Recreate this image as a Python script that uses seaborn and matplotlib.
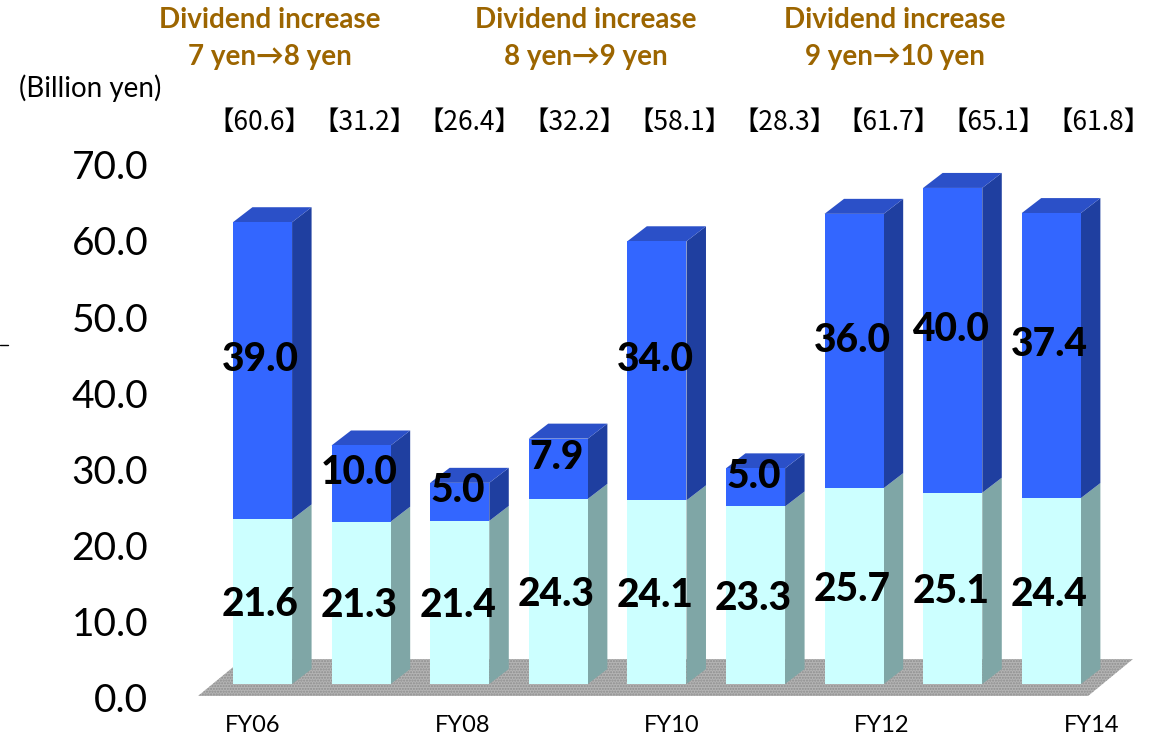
import matplotlib
matplotlib.use("Agg")
import matplotlib.pyplot as plt
from matplotlib.patches import Polygon
from matplotlib.lines import Line2D
from matplotlib.transforms import blended_transform_factory
import numpy as np
import pandas as pd
import seaborn as sns

# ---------------- data ----------------
fiscal_years = ["FY06", "FY07", "FY08", "FY09", "FY10", "FY11", "FY12", "FY13", "FY14"]
base_values = [21.6, 21.3, 21.4, 24.3, 24.1, 23.3, 25.7, 25.1, 24.4]
extra_values = [39.0, 10.0, 5.0, 7.9, 34.0, 5.0, 36.0, 40.0, 37.4]
total_labels = ["60.6", "31.2", "26.4", "32.2", "58.1", "28.3", "61.7", "65.1", "61.8"]
shown_ticks = ["FY06", "FY08", "FY10", "FY12", "FY14"]
y_ticks = [0, 10, 20, 30, 40, 50, 60, 70]
note_titles = ["Dividend increase", "Dividend increase", "Dividend increase"]
note_changes = ["7 yen\u21928 yen", "8 yen\u21929 yen", "9 yen\u219210 yen"]
unit_label = "(Billion yen)"

# ---------------- style ----------------
sns.set_style("white")
plt.rcParams["font.family"] = ["Lato", "DejaVu Sans"]

W, H = 1165, 741
fig = plt.figure(figsize=(W / 100, H / 100), dpi=100)

# pixel layout of the plotting area
AX_L, AX_R, AX_T, AX_B = 190, 1150, 140, 712
X0PX, XSTEP = 262.5, 98.6      # pixel of first bar centre, pixels per category
Y0PX, YSCALE = 684.0, 7.62     # pixel of value 0 (front face), pixels per unit
ax = fig.add_axes([AX_L / W, (H - AX_B) / H, (AX_R - AX_L) / W, (AX_B - AX_T) / H])

FRONT = "#3366FF"
FRONT_SIDE = "#1F3FA0"
FRONT_TOP = "#2B50C8"
BASE = "#CCFFFF"
BASE_SIDE = "#7FA6A6"

df = pd.DataFrame({"year": fiscal_years, "base": base_values, "extra": extra_values})
df["total"] = df["base"] + df["extra"]

bar_w = 0.6
dx = 19.5 / XSTEP
dy = 15.0 / YSCALE

# floor
f_front = (Y0PX - 696) / YSCALE
f_back = (Y0PX - 659) / YSCALE
f_left = (198 - X0PX) / XSTEP
f_right = (1088 - X0PX) / XSTEP
f_depth = 45 / XSTEP
floor = Polygon([(f_left, f_front), (f_right, f_front), (f_right + f_depth, f_back),
                 (f_left + f_depth, f_back)], closed=True, facecolor="#B4B4B4",
                edgecolor="#8E8E8E", hatch="......", linewidth=0, zorder=1)
ax.add_patch(floor)

sns.barplot(data=df, x="year", y="total", color=FRONT, saturation=1, width=bar_w,
            errorbar=None, linewidth=0, ax=ax, zorder=3)
sns.barplot(data=df, x="year", y="base", color=BASE, saturation=1, width=bar_w,
            errorbar=None, linewidth=0, ax=ax, zorder=3)

# 3D side and top faces + value labels
for i, row in df.iterrows():
    x0 = i - bar_w / 2
    x1 = i + bar_w / 2
    b = row["base"]
    t = row["total"]
    ax.add_patch(Polygon([(x1, 0), (x1 + dx, dy), (x1 + dx, b + dy), (x1, b)],
                         closed=True, facecolor=BASE_SIDE, linewidth=0, zorder=2.9))
    ax.add_patch(Polygon([(x1, b), (x1 + dx, b + dy), (x1 + dx, t + dy), (x1, t)],
                         closed=True, facecolor=FRONT_SIDE, linewidth=0, zorder=2.9))
    ax.add_patch(Polygon([(x0, t), (x1, t), (x1 + dx, t + dy), (x0 + dx, t + dy)],
                         closed=True, facecolor=FRONT_TOP, linewidth=0, zorder=2.9))
    ax.annotate(f"{row['extra']:.1f}", xy=(i, b + row["extra"] / 2), xytext=(-2, 11),
                textcoords="offset pixels", ha="center", va="center", fontsize=28,
                fontweight="black", color="black", zorder=6)
    ax.annotate(f"{b:.1f}", xy=(i, b / 2), xytext=(-2, -3),
                textcoords="offset pixels", ha="center", va="center", fontsize=28,
                fontweight="black", color="black", zorder=6)

ax.set_xlim((AX_L - X0PX) / XSTEP, (AX_R - X0PX) / XSTEP)
ax.set_ylim((Y0PX - AX_B) / YSCALE, (Y0PX - AX_T) / YSCALE)
ax.set_xticks([])
ax.set_yticks([])
ax.set_xlabel("")
ax.set_ylabel("")
for s in ax.spines.values():
    s.set_visible(False)

# value axis (labels sit slightly below the front face baseline)
yoff = 14 / YSCALE
ysec = ax.secondary_yaxis("left", functions=(lambda p: p + yoff, lambda s: s - yoff))
ysec.set_yticks(y_ticks, labels=[f"{v:.1f}" for v in y_ticks])
ysec.tick_params(length=0, pad=30, labelsize=28, labelcolor="black")
ysec.spines["left"].set_visible(False)

# category axis
LBL0, LBLSTEP = 252.5, 104.9
xshift = X0PX - LBL0
xfwd = lambda p: (XSTEP * np.asarray(p) + xshift) / LBLSTEP
xinv = lambda s: (LBLSTEP * np.asarray(s) - xshift) / XSTEP
xsec = ax.secondary_xaxis("bottom", functions=(xfwd, xinv))
xsec.set_xticks([fiscal_years.index(t) for t in shown_ticks], labels=shown_ticks)
xsec.tick_params(length=0, pad=2, labelsize=17, labelcolor="black")
xsec.spines["bottom"].set_visible(False)

# totals above the bars
trans = blended_transform_factory(ax.transData, fig.transFigure)
for i, lab in enumerate(total_labels):
    ax.annotate(f"\u3010{lab}\u3011", xy=(float(xinv(i)), 1 - 122 / H), xycoords=trans,
                xytext=(7, 0), textcoords="offset pixels", ha="center", va="center",
                fontsize=19, family=["Noto Sans CJK JP", "DejaVu Sans"],
                color="black", annotation_clip=False)

# dividend notes
NOTE_C = "#9C6500"
for xc, t1, t2 in zip([270, 586, 895], note_titles, note_changes):
    fig.text(xc / W, 1 - 20 / H, t1, ha="center", va="center", fontsize=20,
             fontweight="bold", color=NOTE_C)
    fig.text(xc / W, 1 - 57 / H, t2, ha="center", va="center", fontsize=20,
             fontweight="bold", color=NOTE_C)

fig.text(90 / W, 1 - 88 / H, unit_label, ha="center", va="center", fontsize=20,
         color="black")
fig.add_artist(Line2D([0, 8 / W], [1 - 345 / H] * 2, color="black", lw=1))

fig.savefig("out.png", dpi=100)
